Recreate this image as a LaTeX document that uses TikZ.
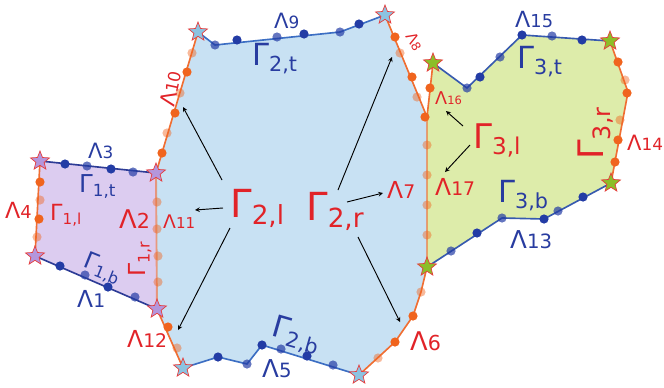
\documentclass[tikz,border=0pt]{standalone}
\usepackage{fontspec}
\setmainfont{DejaVu Sans}
\usetikzlibrary{shapes.geometric}

\definecolor{fillA}{RGB}{220,204,240}
\definecolor{fillB}{RGB}{200,225,243}
\definecolor{fillC}{RGB}{221,236,170}
\definecolor{lineA}{RGB}{45,60,150}
\definecolor{lineB}{RGB}{60,110,195}
\definecolor{lineC}{RGB}{55,90,175}
\definecolor{lineO}{RGB}{240,110,50}
\definecolor{dotO}{RGB}{240,100,30}
\definecolor{dotB}{RGB}{35,60,165}
\definecolor{lblred}{RGB}{225,35,40}
\definecolor{lblblue}{RGB}{40,60,160}
\definecolor{starA}{RGB}{180,150,220}
\definecolor{starB}{RGB}{140,195,225}
\definecolor{starC}{RGB}{140,190,40}
\definecolor{starrim}{RGB}{230,60,60}

\newcommand{\lam}[1]{Λ\scalebox{0.8}{#1}}
\newcommand{\lamsm}[1]{Λ\scalebox{0.65}{#1}}
\newcommand{\gam}[1]{Γ\raisebox{-0.2em}{\scalebox{0.68}{#1}}}

\tikzset{
  redlab/.style={inner sep=0pt, anchor=base west, text=lblred, font=\fontsize{#1}{#1}\selectfont},
  bluelab/.style={inner sep=0pt, anchor=base west, text=lblblue, font=\fontsize{#1}{#1}\selectfont},
  cornerstar/.style={star, star points=5, star point ratio=2.3, minimum size=17pt, inner sep=0pt, draw=starrim, line width=0.6pt, fill=#1},
  bedge/.style={draw=#1, line width=1.4pt},
  oedge/.style={draw=lineO, line width=1.4pt},
  sedge/.style={draw=lineO, line width=1.6pt, opacity=0.6},
  arr/.style={->, black, line width=0.8pt}
}

\begin{document}
\begin{tikzpicture}[x=0.03cm, y=-0.03cm, >=stealth]
\useasboundingbox (0,0) rectangle (664,387);

\coordinate (a1) at (40,161);
\coordinate (a2) at (156,173);
\coordinate (a3) at (157,309);
\coordinate (a4) at (35,256);
\coordinate (b1) at (198,32);
\coordinate (b2) at (385,15);
\coordinate (b3) at (427,117);
\coordinate (b4) at (427,267);
\coordinate (b5) at (359,375);
\coordinate (b6) at (183,368);
\coordinate (c1) at (433,63);
\coordinate (c2) at (610,41);
\coordinate (c3) at (611,183);

\fill[fillB] (b1) -- (215,45) -- (340,32) -- (b2) -- (b3) -- (b4) -- (421,292) -- (413,316)
  -- (395,342) -- (b5) -- (262,345) -- (247,364) -- (218,357) -- (b6) -- (a3) -- (a2) -- cycle;
\fill[fillA] (a1) -- (a2) -- (a3) -- (a4) -- cycle;
\fill[fillC] (b3) -- (c1) -- (467,88) -- (522,35) -- (c2) -- (628,92) -- (c3)
  -- (544,219) -- (502,218) -- (b4) -- cycle;

\draw[bedge=lineA] (a1) -- (a2);
\draw[bedge=lineA] (a4) -- (a3);
\draw[oedge] (a1) -- (a4);
\draw[sedge] (a2) -- (a3);
\draw[bedge=lineB] (b1) -- (215,45) -- (340,32) -- (b2);
\draw[bedge=lineB] (b6) -- (218,357) -- (247,364) -- (262,345) -- (b5);
\draw[oedge] (a2) -- (b1);
\draw[oedge] (a3) -- (b6);
\draw[oedge] (b2) -- (b3);
\draw[oedge] (b4) -- (421,292) -- (413,316) -- (395,342) -- (b5);
\draw[sedge] (b3) -- (b4);
\draw[oedge] (b3) -- (c1);
\draw[bedge=lineC] (c1) -- (467,88) -- (522,35) -- (c2);
\draw[oedge] (c2) -- (628,92) -- (c3);
\draw[bedge=lineC] (c3) -- (544,219) -- (502,218) -- (b4);

\foreach \p in {(65,164),(111,169),(60,266),(108,287),(237,40),(304,34),(359,24),
  (218,357),(262,345),(307,356),(480,77),(522,35),(582,40),(583,197),(544,219),(477,233)}
  \fill[dotB] \p circle (4.6);
\foreach \p in {(87,166),(133,172),(85,275),(135,297),(215,45),(277,37),(340,32),
  (247,364),(281,349),(333,365),(467,88),(500,57),(552,36),(558,211),(502,218),(451,251)}
  \fill[dotB, opacity=0.7] \p circle (4.6);
\foreach \p in {(40,182),(39,219),(162,153),(175,113),(187,72),(395,37),(412,77),
  (425,117),(413,316),(395,342),(168,327),(430,88),(618,62),(627,93),(618,140),(615,162)}
  \fill[dotO] \p circle (4.6);
\foreach \p in {(40,200),(37,237),(167,133),(180,93),(192,53),(400,53),(417,97),
  (421,292),(378,358),(177,348),(625,80),(620,120),
  (157,202),(157,229),(158,256),(158,282),(427,145),(427,175),(427,205),(427,235)}
  \fill[dotO, opacity=0.45] \p circle (4.6);

\node[cornerstar=starA] (sa1) at (a1) {};
\node[cornerstar=starA] (sa2) at (a2) {};
\node[cornerstar=starA] (sa3) at (a3) {};
\node[cornerstar=starA] (sa4) at (a4) {};
\node[cornerstar=starB] (sb1) at (b1) {};
\node[cornerstar=starB] (sb2) at (b2) {};
\node[cornerstar=starB] (sb5) at (b5) {};
\node[cornerstar=starB] (sb6) at (b6) {};
\node[cornerstar=starC] (sc1) at (c1) {};
\node[cornerstar=starC] (sc2) at (c2) {};
\node[cornerstar=starC] (sc3) at (c3) {};
\node[cornerstar=starC] (sc4) at (b4) {};

\node[bluelab=20] (lam1) at (77,307) {\lam{1}};
\node[redlab=22] (lam2) at (119,228) {\lam{2}};
\node[bluelab=18] (lam3) at (88,158) {\lam{3}};
\node[redlab=19] (lam4) at (5,218) {\lam{4}};
\node[bluelab=21] (lam5) at (262,377) {\lam{5}};
\node[redlab=22] (lam6) at (410,350) {\lam{6}};
\node[redlab=20] (lam7) at (387,198) {\lam{7}};
\node[redlab=13, rotate=-60] (lam8) at (405,36) {\lam{8}};
\node[bluelab=18] (lam9) at (274,28) {\lam{9}};
\node[redlab=18, rotate=78] (lam10) at (174,108) {\lam{10}};
\node[redlab=16] (lam11) at (163,228) {\lam{11}};
\node[redlab=20] (lam12) at (127,347) {\lam{12}};
\node[bluelab=21] (lam13) at (510,248) {\lam{13}};
\node[redlab=18] (lam14) at (627,150) {\lam{14}};
\node[bluelab=19] (lam15) at (515,27) {\lam{15}};
\node[redlab=15] (lam16) at (435,104) {\lamsm{16}};
\node[redlab=20] (lam17) at (435,195) {\lam{17}};

\node[bluelab=21] (g1t) at (79,192) {\gam{1,t}};
\node[redlab=19] (g1l) at (50,220) {\gam{1,l}};
\node[redlab=20, rotate=90] (g1r) at (145,277) {\gam{1,r}};
\node[bluelab=20, rotate=-22] (g1b) at (82,266) {\gam{1,b}};
\node[bluelab=26] (g2t) at (252,65) {\gam{2,t}};
\node[redlab=33] (g2l) at (230,217) {\gam{2,l}};
\node[redlab=33] (g2r) at (306,220) {\gam{2,r}};
\node[bluelab=26, rotate=-16] (g2b) at (270,335) {\gam{2,b}};
\node[bluelab=26] (g3t) at (517,68) {\gam{3,t}};
\node[redlab=29] (g3l) at (473,148) {\gam{3,l}};
\node[redlab=30, rotate=90] (g3r) at (603,160) {\gam{3,r}};
\node[bluelab=26] (g3b) at (498,202) {\gam{3,b}};

\coordinate (t1) at (222,180);
\coordinate (h1) at (183,107);
\coordinate (t2) at (223,208);
\coordinate (h2) at (195,210);
\coordinate (t3) at (230,228);
\coordinate (h3) at (178,330);
\coordinate (t4) at (338,190);
\coordinate (h4) at (392,57);
\coordinate (t5) at (347,202);
\coordinate (h5) at (383,193);
\coordinate (t6) at (358,237);
\coordinate (h6) at (400,322);
\coordinate (t7) at (463,126);
\coordinate (h7) at (446,111);
\coordinate (t8) at (470,145);
\coordinate (h8) at (445,172);

\draw[arr] (t1) -- (h1);
\draw[arr] (t2) -- (h2);
\draw[arr] (t3) -- (h3);
\draw[arr] (t4) -- (h4);
\draw[arr] (t5) -- (h5);
\draw[arr] (t6) -- (h6);
\draw[arr] (t7) -- (h7);
\draw[arr] (t8) -- (h8);
\end{tikzpicture}
\end{document}
